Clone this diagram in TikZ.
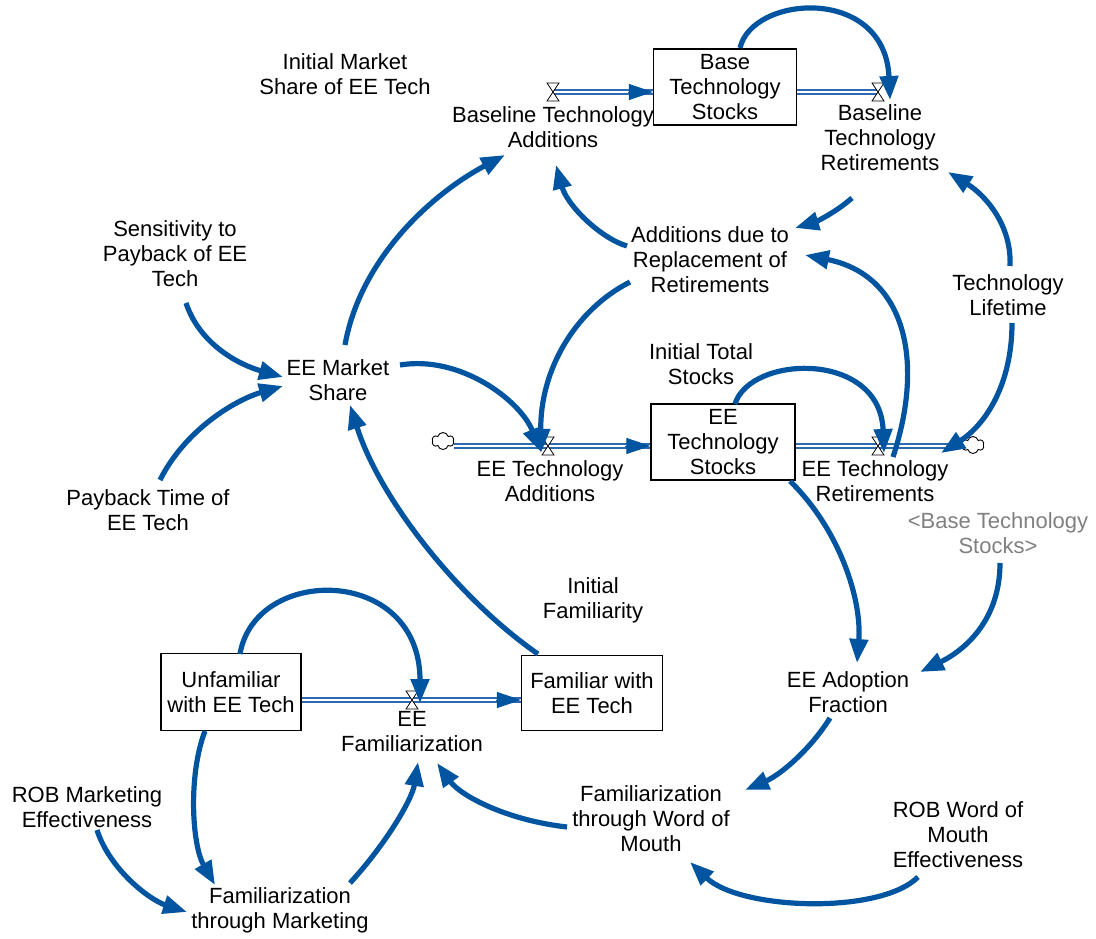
\documentclass[tikz,border=0pt]{standalone}
\usepackage{fontspec}
\setmainfont{Liberation Sans}
\usetikzlibrary{arrows.meta,shapes.symbols}
\definecolor{linkblue}{RGB}{0,84,160}
\definecolor{flowblue}{RGB}{45,105,175}
\definecolor{shadowgray}{RGB}{128,128,128}
\begin{document}
\begin{tikzpicture}[x=1pt,y=-1pt,
  lbl/.style={align=center,inner sep=0pt,font=\fontsize{22}{25}\selectfont},
  stockbox/.style={draw=black,line width=1.2pt,fill=white,minimum width=143pt,minimum height=76pt,align=center,inner sep=0pt,font=\fontsize{22}{25}\selectfont},
  link/.style={draw=linkblue,line width=5.2pt,-{Triangle[length=24pt,width=18pt]}},
  flowpipe/.style={draw=flowblue,double=white,double distance=2.2pt,line width=1.5pt},
  flowtip/.style={draw=linkblue,line width=1pt,-{Triangle[length=24pt,width=16pt]}},
  valveglyph/.style={draw=black,fill=white,line width=0.8pt,line join=miter},
  sink/.style={cloud,cloud puffs=6,aspect=1.3,draw=black,fill=white,line width=0.9pt,minimum width=22pt,minimum height=17pt,inner sep=0pt}
]
\useasboundingbox (0,0) rectangle (1096,938);

% stocks
\node[stockbox] (bts) at (725,87) {Base\\Technology\\Stocks};
\node[stockbox,minimum width=144pt] (ets) at (723,442) {EE\\Technology\\Stocks};
\node[stockbox,minimum width=140pt,minimum height=77pt] (unf) at (231,692) {Unfamiliar\\with EE Tech};
\node[stockbox,minimum width=141pt,minimum height=75pt] (fam) at (592,693) {Familiar with\\EE Tech};

% labels
\node[lbl] (imsh) at (345,74) {Initial Market\\Share of EE Tech};
\node[lbl] (bta) at (553,127) {Baseline Technology\\Additions};
\node[lbl] (btr) at (880,138) {Baseline\\Technology\\Retirements};
\node[lbl] (adr) at (710,260) {Additions due to\\Replacement of\\Retirements};
\node[lbl] (sens) at (175,254) {Sensitivity to\\Payback of EE\\Tech};
\node[lbl] (tl) at (1008,295) {Technology\\Lifetime};
\node[lbl] (ems) at (338,380) {EE Market\\Share};
\node[lbl] (its) at (701,364) {Initial Total\\Stocks};
\node[lbl] (eta) at (550,481) {EE Technology\\Additions};
\node[lbl] (etr) at (875,481) {EE Technology\\Retirements};
\node[lbl,text=shadowgray] (bbts) at (998,533) {<Base Technology\\Stocks>};
\node[lbl] (pay) at (148,510) {Payback Time of\\EE Tech};
\node[lbl] (ifam) at (593,600) {Initial\\Familiarity};
\node[lbl] (eaf) at (848,692) {EE Adoption\\Fraction};
\node[lbl] (eef) at (412,732) {EE\\Familiarization};
\node[lbl] (robm) at (87,807) {ROB Marketing\\Effectiveness};
\node[lbl] (fwom) at (651,819) {Familiarization\\through Word of\\Mouth};
\node[lbl] (robw) at (958,835) {ROB Word of\\Mouth\\Effectiveness};
\node[lbl] (fmk) at (280,910) {Familiarization\\through Marketing};

% valves and clouds positions
\coordinate (v1) at (553,92);
\coordinate (v2) at (878,92);
\coordinate (v3) at (548,446);
\coordinate (v4) at (878,446);
\coordinate (v5) at (412,700);
\node[sink] (c1) at (443,441) {};
\node[sink] (c2) at (973,445) {};

% flows
\draw[flowpipe] (v1) -- (v1 -| bts.west);
\draw[flowtip] ([xshift=-25pt]v1 -| bts.west) -- (v1 -| bts.west);
\draw[flowpipe] (v2 -| bts.east) -- (v2);
\draw[flowpipe] (c1.east |- v3) -- (v3 -| ets.west);
\draw[flowtip] ([xshift=-25pt]v3 -| ets.west) -- (v3 -| ets.west);
\draw[flowpipe] (v4 -| ets.east) -- (c2.west |- v4);
\draw[flowpipe] (v5 -| unf.east) -- (v5 -| fam.west);
\draw[flowtip] ([xshift=-25pt]v5 -| fam.west) -- (v5 -| fam.west);

% valve glyphs
\foreach \v in {v1,v2,v3,v4,v5}{
  \draw[valveglyph] ([shift={(-6,-9)}]\v) -- ++(12,0) -- ++(-12,18) -- ++(12,0) -- cycle;
}

% links
\draw[link] ([shift={(15,-39)}]bts.center) .. controls (752,-5) and (885,-15) .. ([shift={(12,8)}]v2);
\draw[link] ([shift={(-28,60)}]btr.center) .. controls (835,213) and (815,222) .. ([shift={(85,-32)}]adr.center);
\draw[link] ([shift={(2,-29)}]tl.center) .. controls (1012,225) and (985,195) .. ([shift={(68,34)}]btr.center);
\draw[link] ([shift={(4,28)}]tl.center) .. controls (1012,385) and (985,425) .. ([shift={(-32,8)}]c2.center);
\draw[link] ([shift={(-83,-14)}]adr.center) .. controls (600,238) and (567,205) .. ([shift={(3,38)}]bta.center);
\draw[link] ([shift={(-80,22)}]adr.center) .. controls (575,310) and (540,370) .. ([shift={(-7,7)}]v3);
\draw[link] ([shift={(15,11)}]v4) .. controls (925,360) and (905,275) .. ([shift={(95,-5)}]adr.center);
\draw[link] ([shift={(12,-38)}]ets.center) .. controls (750,355) and (880,350) .. ([shift={(6,7)}]v4);
\draw[link] ([shift={(62,-15)}]ems.center) .. controls (460,355) and (520,400) .. ([shift={(-7,6)}]v3);
\draw[link] ([shift={(7,-35)}]ems.center) .. controls (360,260) and (430,195) .. ([shift={(-48,28)}]bta.center);
\draw[link] ([shift={(11,49)}]sens.center) .. controls (200,345) and (240,365) .. ([shift={(-55,-3)}]ems.center);
\draw[link] ([shift={(12,-30)}]pay.center) .. controls (185,430) and (235,400) .. ([shift={(-55,6)}]ems.center);
\draw[link] ([shift={(-54,-39)}]fam.center) .. controls (460,600) and (380,500) .. ([shift={(12,25)}]ems.center);
\draw[link] ([shift={(9,-38)}]unf.center) .. controls (255,565) and (420,565) .. ([shift={(8,3)}]v5);
\draw[link] ([shift={(-26,39)}]unf.center) .. controls (188,775) and (192,845) .. ([shift={(-65,-25)}]fmk.center);
\draw[link] ([shift={(10,23)}]robm.center) .. controls (110,870) and (150,900) .. ([shift={(-93,2)}]fmk.center);
\draw[link] ([shift={(70,-27)}]fmk.center) .. controls (385,845) and (412,800) .. ([shift={(6,30)}]eef.center);
\draw[link] ([shift={(-84,8)}]fwom.center) .. controls (505,820) and (460,795) .. ([shift={(25,31)}]eef.center);
\draw[link] ([shift={(-18,26)}]eaf.center) .. controls (810,750) and (780,775) .. ([shift={(94,-29)}]fwom.center);
\draw[link] ([shift={(-40,42)}]robw.center) .. controls (880,915) and (740,910) .. ([shift={(39,43)}]fwom.center);
\draw[link] ([shift={(67,39)}]ets.center) .. controls (840,530) and (862,600) .. ([shift={(9,-29)}]eaf.center);
\draw[link] ([shift={(2,30)}]bbts.center) .. controls (1000,620) and (965,650) .. ([shift={(72,-20)}]eaf.center);
\end{tikzpicture}
\end{document}
